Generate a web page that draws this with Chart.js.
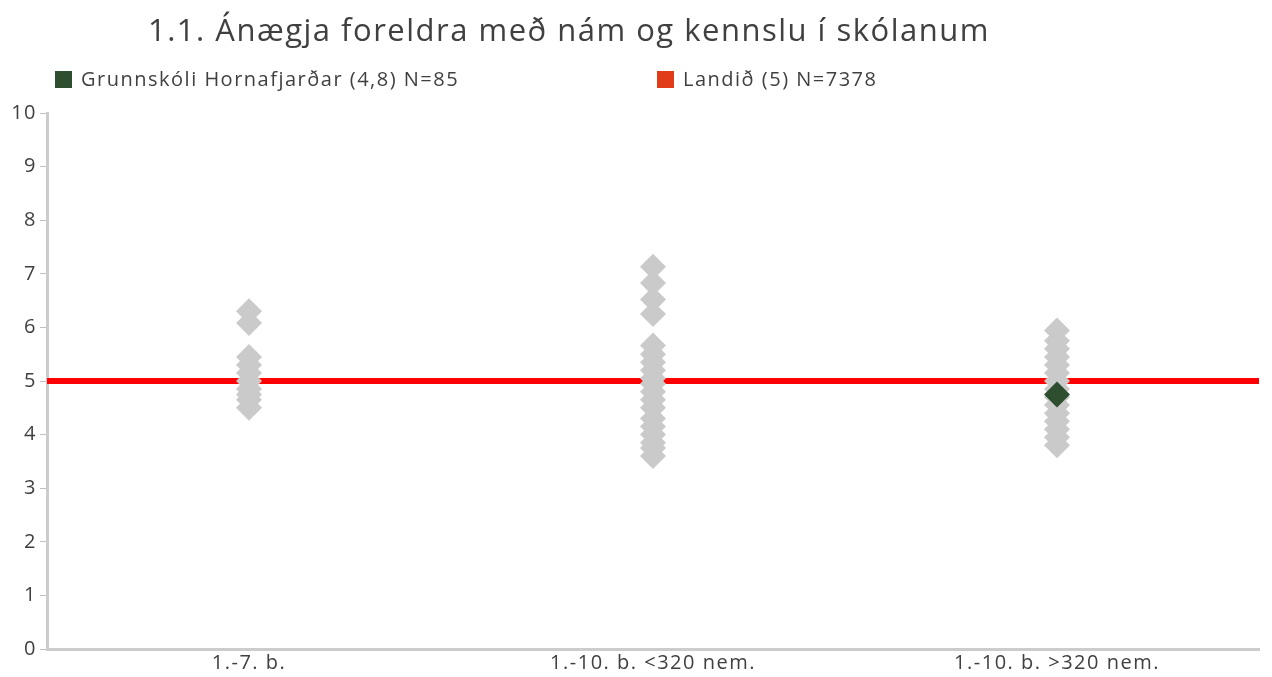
<!DOCTYPE html>
<html lang="is">
<head>
<meta charset="utf-8">
<script src="https://cdn.jsdelivr.net/npm/chart.js@4.4.0/dist/chart.umd.min.js"></script>
<style>
  html, body { margin: 0; padding: 0; background: #fff; }
  #wrap { position: relative; width: 1272px; height: 677px; font-family: "Open Sans", sans-serif; color: #404040; }
  #title { position: absolute; left: 148px; top: 8px; font-size: 31px; letter-spacing: 1.5px; white-space: nowrap; }
  .leg { position: absolute; top: 65px; font-size: 20px; letter-spacing: 1.5px; white-space: nowrap; }
  .leg i { display: inline-block; width: 17px; height: 17px; margin-right: 9px; vertical-align: -2px; }
  canvas { position: absolute; left: 0; top: 0; }
</style>
</head>
<body>
<div id="wrap">
  <canvas id="chart" width="1272" height="677"></canvas>
  <div id="title"></div>
  <div class="leg" id="leg0" style="left:55px"></div>
  <div class="leg" id="leg1" style="left:657px"></div>
</div>
<script>
// Data
const titleText = '1.1. Ánægja foreldra með nám og kennslu í skólanum';
const categories = ['1.-7. b.', '1.-10. b. <320 nem.', '1.-10. b. >320 nem.'];
const yTicks = [0, 1, 2, 3, 4, 5, 6, 7, 8, 9, 10];

// other schools, one list per category (grey diamonds)
const schools17 = [6.3, 6.08, 5.45, 5.3, 5.15, 5.0, 4.85, 4.75, 4.65, 4.5];
const schoolsSmall = [7.13, 6.83, 6.52, 6.25, 5.66, 5.5, 5.35, 5.2, 5.05, 4.95, 4.8, 4.65, 4.5, 4.3, 4.15, 4.0, 3.85, 3.75, 3.6];
const schoolsLarge = [5.94, 5.75, 5.6, 5.45, 5.3, 5.15, 5.0, 4.85, 4.7, 4.55, 4.4, 4.25, 4.1, 3.95, 3.8];

// the school itself and the national average
const schoolLabel = 'Grunnskóli Hornafjarðar (4,8) N=85';
const schoolCategory = 2;
const schoolValue = 4.75;
const nationLabel = 'Landið (5) N=7378';
const nationValue = 5;

const greenColor = '#2e4f2f';
const greyColor = '#cacaca';
const redColor = '#ff0000';
const nationLegendColor = '#e03c1a';

// header text and legend as plain html
document.getElementById('title').textContent = titleText;
document.getElementById('leg0').innerHTML = `<i style="background:${greenColor}"></i>${schoolLabel}`;
document.getElementById('leg1').innerHTML = `<i style="background:${nationLegendColor}"></i>${nationLabel}`;

const otherSchools = [schools17, schoolsSmall, schoolsLarge];
const greyPoints = [];
otherSchools.forEach((list, i) => {
    list.forEach(v => greyPoints.push({ x: i, y: v }));
});

const tickFont = { family: '"Open Sans", sans-serif', size: 20 };

// the reference font is set wide, so space the canvas letters a bit
const spacing = {
    id: 'spacing',
    beforeUpdate(chart) { chart.ctx.letterSpacing = '1.5px'; },
    beforeDraw(chart) { chart.ctx.letterSpacing = '1.5px'; }
};

new Chart(document.getElementById('chart'), {
    type: 'scatter',
    data: {
        datasets: [
            {
                label: schoolLabel,
                data: [{ x: schoolCategory, y: schoolValue }],
                pointStyle: 'rectRot',
                pointRadius: 13,
                borderWidth: 0,
                backgroundColor: greenColor
            },
            {
                label: 'Aðrir skólar',
                data: greyPoints,
                pointStyle: 'rectRot',
                pointRadius: 13,
                borderWidth: 0,
                backgroundColor: greyColor
            },
            {
                label: nationLabel,
                type: 'line',
                data: [{ x: -0.5, y: nationValue }, { x: categories.length - 0.5, y: nationValue }],
                borderColor: redColor,
                borderWidth: 6,
                pointRadius: 0
            }
        ]
    },
    options: {
        responsive: false,
        animation: false,
        layout: { padding: { top: 113, right: -4, left: 0, bottom: 0 } },
        plugins: {
            legend: { display: false },
            tooltip: { enabled: false },
            title: { display: false }
        },
        scales: {
            x: {
                type: 'linear',
                min: -0.5,
                max: categories.length - 0.5,
                afterBuildTicks: scale => { scale.ticks = categories.map((c, i) => ({ value: i })); },
                ticks: {
                    callback: v => categories[v],
                    color: '#404040',
                    font: tickFont,
                    padding: 2,
                    maxRotation: 0
                },
                grid: { drawOnChartArea: false, drawTicks: false },
                border: { color: '#cccccc', width: 3 }
            },
            y: {
                min: 0,
                max: 10,
                afterBuildTicks: scale => { scale.ticks = yTicks.map(v => ({ value: v })); },
                afterFit: scale => { scale.width = 47; },
                ticks: {
                    color: '#404040',
                    font: tickFont,
                    padding: 3
                },
                grid: { drawOnChartArea: false, drawTicks: true, tickLength: 7, color: '#bfbfbf', lineWidth: 1 },
                border: { color: '#cccccc', width: 3 }
            }
        }
    },
    plugins: [spacing]
});
</script>
</body>
</html>
